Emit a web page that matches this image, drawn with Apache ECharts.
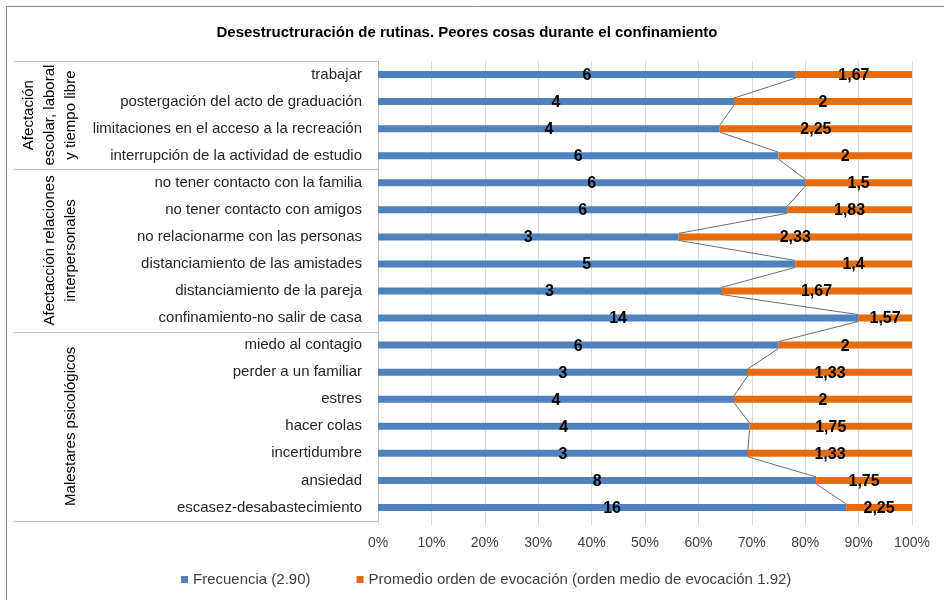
<!DOCTYPE html>
<html lang="es">
<head>
<meta charset="utf-8">
<title>Desestructruración de rutinas</title>
<script src="https://cdn.jsdelivr.net/npm/echarts@6/dist/echarts.min.js"></script>
<style>
  html, body { margin: 0; padding: 0; background: #fff; }
  #container { width: 944px; height: 600px; }
</style>
</head>
<body>
<div id="container"></div>
<script>
var categories = [
  'trabajar',
  'postergación del acto de graduación',
  'limitaciones en el acceso a la recreación',
  'interrupción de la actividad de estudio',
  'no tener contacto con la familia',
  'no tener contacto con amigos',
  'no relacionarme con las personas',
  'distanciamiento de las amistades',
  'distanciamiento de la pareja',
  'confinamiento-no salir de casa',
  'miedo al contagio',
  'perder a un familiar',
  'estres',
  'hacer colas',
  'incertidumbre',
  'ansiedad',
  'escasez-desabastecimiento'
];
var frecuencia = [6, 4, 4, 6, 6, 6, 3, 5, 3, 14, 6, 3, 4, 4, 3, 8, 16];
var promedio = [1.67, 2, 2.25, 2, 1.5, 1.83, 2.33, 1.4, 1.67, 1.57, 2, 1.33, 2, 1.75, 1.33, 1.75, 2.25];
var groupNames = [
  'Afectación\nescolar, laboral\ny tiempo libre',
  'Afectacción relaciones\ninterpersonales',
  'Malestares psicológicos'
];
var groupSizes = [4, 6, 7];

// 100% stacked shares
var pctFrec = frecuencia.map(function (f, i) { return f / (f + promedio[i]) * 100; });
var pctProm = promedio.map(function (p, i) { return p / (frecuencia[i] + p) * 100; });

// series lines: join bar ends of consecutive rows
var seriesLines = [];
for (var i = 0; i < categories.length - 1; i++) {
  seriesLines.push([pctFrec[i], i, pctFrec[i + 1], i + 1]);
}

var FONT = 'Liberation Sans';
var gridTop = 61, gridBottom = 79, gridLeft = 378, gridRight = 32;
var barW = 7;

var myChart = echarts.init(document.getElementById('container'));

var option = {
  backgroundColor: '#fff',
  animation: false,
  textStyle: { fontFamily: FONT },
  title: {
    text: 'Desestructruración de rutinas. Peores cosas durante el confinamiento',
    left: 462, top: 20, textAlign: 'center',
    textStyle: { fontFamily: FONT, fontSize: 15, fontWeight: 'bold', color: '#000' }
  },
  legend: {
    top: 567, left: 176,
    itemWidth: 7, itemHeight: 7, itemGap: 46,
    icon: 'rect',
    textStyle: { fontFamily: FONT, fontSize: 15, color: '#404040' },
    data: ['Frecuencia (2.90)', 'Promedio orden de evocación (orden medio de evocación 1.92)']
  },
  grid: { top: gridTop, bottom: gridBottom, left: gridLeft, right: gridRight, containLabel: false },
  xAxis: {
    type: 'value', min: 0, max: 100, interval: 10,
    axisLine: { show: false },
    axisTick: { show: true, length: 4, lineStyle: { color: '#d9d9d9' } },
    splitLine: { show: true, lineStyle: { color: '#d9d9d9', width: 1 } },
    axisLabel: { formatter: '{value}%', color: '#404040', fontSize: 14, fontFamily: FONT, margin: 15 }
  },
  yAxis: {
    type: 'category', data: categories, inverse: true,
    axisLine: { show: true, lineStyle: { color: '#bfbfbf' } },
    axisTick: { show: false },
    axisLabel: { color: '#262626', fontSize: 15, fontFamily: FONT, margin: 16 }
  },
  series: [
    {
      name: 'Frecuencia (2.90)', type: 'bar', stack: 'total', barWidth: barW,
      itemStyle: { color: '#4f81bd' },
      label: {
        show: true, position: 'inside', offset: [0, 1], color: '#000', fontWeight: 'bold', fontSize: 16,
        fontFamily: FONT,
        formatter: function (p) { return String(frecuencia[p.dataIndex]).replace('.', ','); }
      },
      data: pctFrec
    },
    {
      name: 'Promedio orden de evocación (orden medio de evocación 1.92)', type: 'bar',
      stack: 'total', barWidth: barW,
      itemStyle: { color: '#e46c0a' },
      label: {
        show: true, position: 'inside', offset: [0, 1], color: '#000', fontWeight: 'bold', fontSize: 16,
        fontFamily: FONT,
        formatter: function (p) { return String(promedio[p.dataIndex]).replace('.', ','); }
      },
      data: pctProm
    },
    {
      type: 'custom', name: 'lineas', silent: true, z: 3,
      encode: { x: [0, 2], y: [1, 3] },
      renderItem: function (params, api) {
        var a = api.coord([api.value(0), api.value(1)]);
        var b = api.coord([api.value(2), api.value(3)]);
        return {
          type: 'line',
          shape: { x1: a[0], y1: a[1] + barW / 2, x2: b[0], y2: b[1] - barW / 2 },
          style: { stroke: '#6f6f6f', lineWidth: 1 }
        };
      },
      data: seriesLines
    }
  ]
};
myChart.setOption(option);

// group labels and separators of the multi-level category axis
var band = (600 - gridTop - gridBottom) / categories.length;
var graphics = [{
  type: 'rect', shape: { x: 6.5, y: 6.5, width: 960, height: 620 },
  style: { fill: null, stroke: '#898989', lineWidth: 1 }, silent: true
}];
var start = 0;
graphics.push({
  type: 'line', shape: { x1: 14, y1: gridTop + 0.5, x2: gridLeft, y2: gridTop + 0.5 },
  style: { stroke: '#bfbfbf', lineWidth: 1 }
});
groupSizes.forEach(function (n, g) {
  var yTop = gridTop + start * band;
  var yBot = gridTop + (start + n) * band;
  var yb = Math.round(yBot) + 0.5;
  graphics.push({
    type: 'line', shape: { x1: 14, y1: yb, x2: gridLeft, y2: yb },
    style: { stroke: '#bfbfbf', lineWidth: 1 }
  });
  graphics.push({
    type: 'text', x: 81, y: (yTop + yBot) / 2, rotation: Math.PI / 2,
    style: {
      text: groupNames[g], fontFamily: FONT, fontSize: 15, fill: '#000',
      align: 'center', verticalAlign: 'bottom', lineHeight: 21
    }
  });
  start += n;
});
myChart.setOption({ graphic: graphics });
</script>
</body>
</html>
